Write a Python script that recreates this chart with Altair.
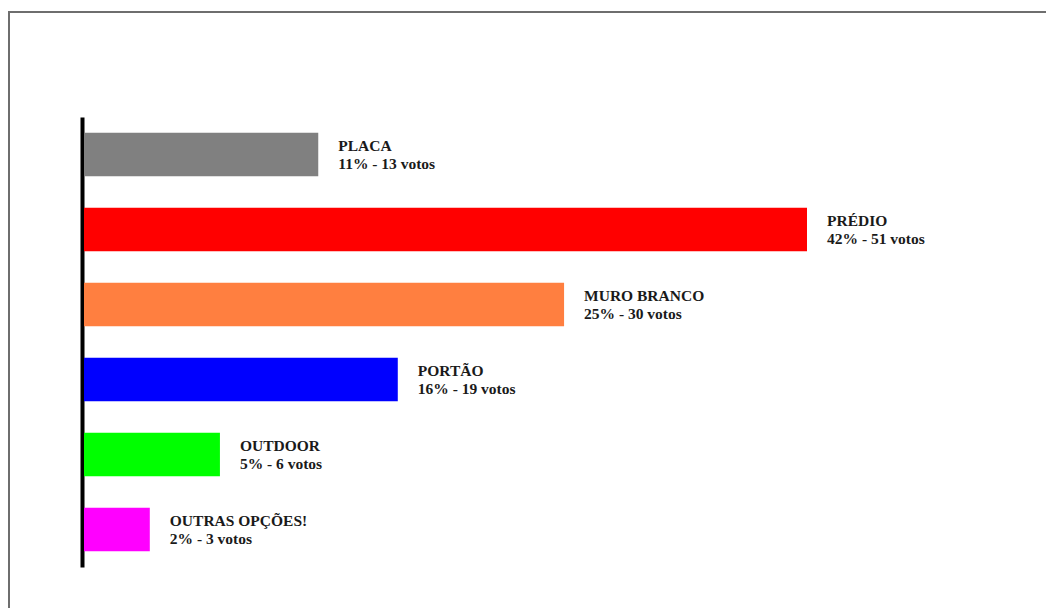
import altair as alt
import pandas as pd

categories = ["PLACA", "PRÉDIO", "MURO BRANCO", "PORTÃO", "OUTDOOR", "OUTRAS OPÇÕES!"]
percents = [11, 42, 25, 16, 5, 2]
votes = [13, 51, 30, 19, 6, 3]
# drawn bar lengths, relative to the longest bar
bar_lengths = [32.4, 100, 66.4, 43.4, 18.8, 9.1]
colors = ["#808080", "#FF0000", "#FF7F40", "#0000FF", "#00FF00", "#FF00FF"]

df = pd.DataFrame({
    "categoria": categories,
    "pct": percents,
    "votos": votes,
    "comprimento": bar_lengths,
    "cor": colors,
})
df["rotulo"] = [f"{c}\n{p}% - {v} votos" for c, p, v in zip(categories, percents, votes)]

xscale = alt.Scale(domain=[0, 100], range=[76, 799])
yscale = alt.Scale(domain=categories, range=[109, 559], paddingInner=0.42, paddingOuter=0.21)

base = alt.Chart(df)

bars = base.mark_bar().encode(
    x=alt.X("comprimento:Q", scale=xscale, axis=None),
    y=alt.Y("categoria:N", sort=categories, scale=yscale,
            axis=alt.Axis(labels=False, ticks=False, title=None, grid=False,
                          domain=True, domainColor="black", domainWidth=4,
                          offset=-74)),
    color=alt.Color("cor:N", scale=None, legend=None),
)

labels = base.mark_text(
    align="left", baseline="middle", dx=20, dy=-9, lineBreak="\n", lineHeight=18,
    font="Liberation Serif", fontWeight="bold", fontSize=15.5, color="#1a1a1a",
).encode(
    x=alt.X("comprimento:Q", scale=xscale, axis=None),
    y=alt.Y("categoria:N", sort=categories, scale=yscale),
    text="rotulo:N",
)

border_df = pd.DataFrame({"k": [0]})
top_border = alt.Chart(border_df).mark_rule(color="#6e6e6e", strokeWidth=2).encode(
    x=alt.value(0), x2=alt.value(1038), y=alt.value(4), y2=alt.value(4)
)
left_border = alt.Chart(border_df).mark_rule(color="#6e6e6e", strokeWidth=2).encode(
    x=alt.value(1), x2=alt.value(1), y=alt.value(4), y2=alt.value(600)
)

chart = alt.layer(top_border, left_border, bars, labels).properties(
    width=1038, height=600,
    autosize=alt.AutoSizeParams(type="none"),
    padding=0,
    background="white",
).configure_view(stroke="transparent", strokeWidth=0, strokeOpacity=0)

chart.save("out.html", embed_options={"renderer": "svg", "actions": False})
